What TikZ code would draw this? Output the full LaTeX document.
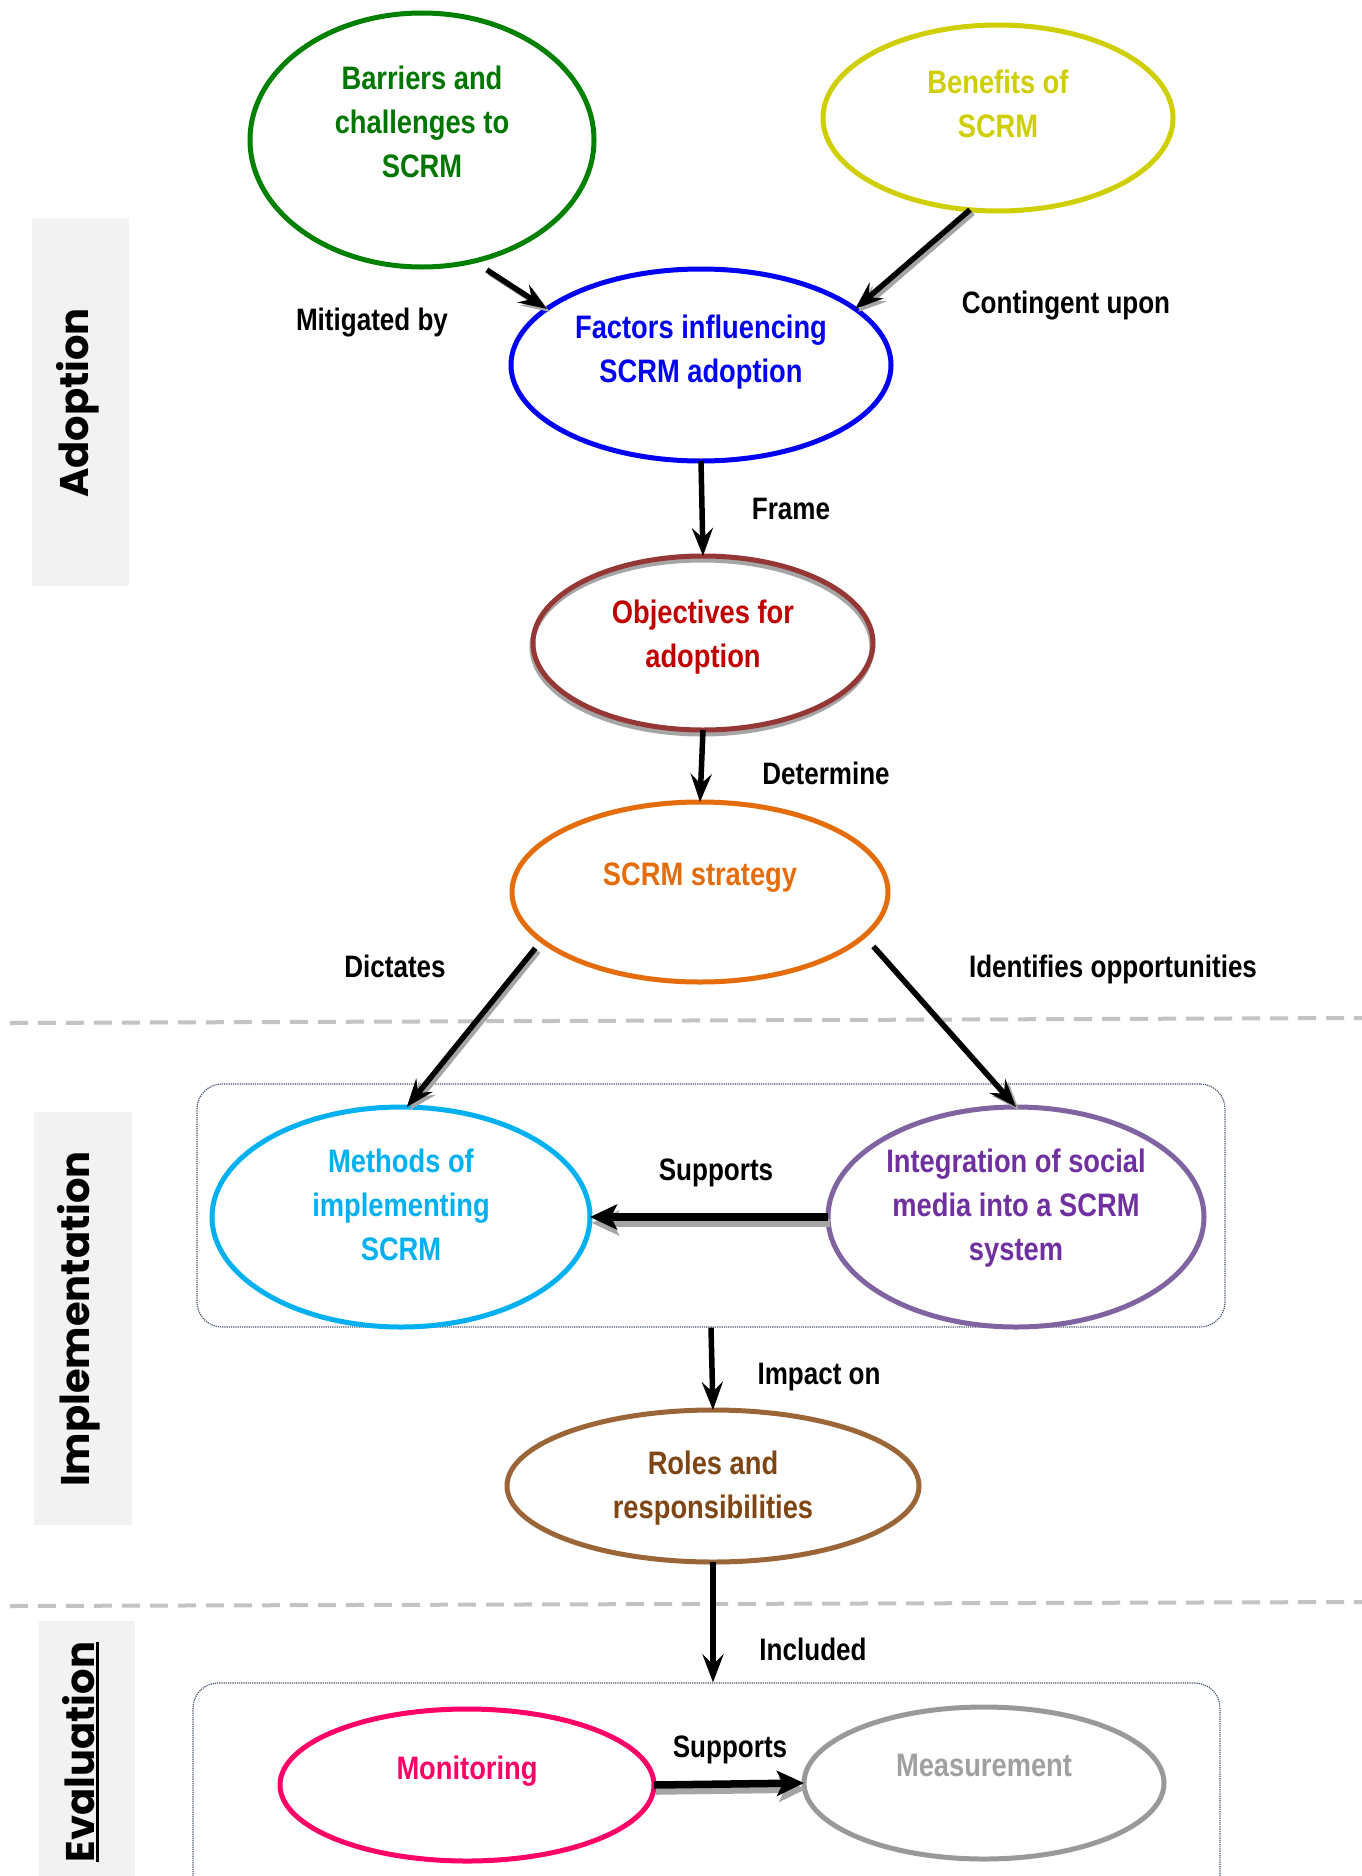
\documentclass[tikz,border=0pt]{standalone}
\usepackage{fontspec}
\setmainfont{Liberation Sans}[FakeStretch=0.84]
\newfontfamily\sidefamily{Poppins}
\usetikzlibrary{shapes.geometric,arrows.meta}
\definecolor{cgreen}{RGB}{0,128,0}
\definecolor{cgreenT}{RGB}{0,118,0}
\definecolor{cyel}{RGB}{206,206,0}
\definecolor{cblue}{RGB}{0,0,245}
\definecolor{cobj}{RGB}{149,55,53}
\definecolor{cobjT}{RGB}{192,0,0}
\definecolor{corange}{RGB}{228,108,10}
\definecolor{ccyan}{RGB}{0,176,240}
\definecolor{cpurp}{RGB}{128,100,162}
\definecolor{cpurpT}{RGB}{112,48,160}
\definecolor{cbrown}{RGB}{155,102,55}
\definecolor{cbrownT}{RGB}{125,70,20}
\definecolor{cpink}{RGB}{255,0,102}
\definecolor{cgrayE}{RGB}{153,153,153}
\definecolor{cgrayT}{RGB}{160,160,160}
\definecolor{shadowgray}{RGB}{165,165,165}
\definecolor{sidegray}{RGB}{242,242,242}
\definecolor{sepgray}{RGB}{195,195,195}
\definecolor{grpcol}{RGB}{68,84,106}
\newcommand{\mynodefont}{\fontsize{32.5}{44}\selectfont\bfseries}
\newcommand{\mylblfont}{\fontsize{31}{40}\selectfont\bfseries}
\newcommand{\mysidefont}{\sidefamily\fontsize{40}{48}\selectfont\bfseries}
\begin{document}
\begin{tikzpicture}[x=1pt,y=-1pt,
  ell/.style={ellipse, draw=#1, line width=5pt, inner sep=0pt, outer sep=0pt},
  intxt/.style={font=\mynodefont, text=#1, align=center, inner sep=0pt},
  lbl/.style={font=\mylblfont, text=black, anchor=base, inner sep=0pt},
  side/.style={font=\mysidefont, rotate=90, anchor=base, inner sep=0pt},
  conn/.style={line width=5.5pt, -{Stealth[length=28pt,width=21pt,inset=10pt]}},
  shad/.style={draw=shadowgray, transform canvas={shift={(3,3)}}},
  thickconn/.style={line width=7.5pt, -{Stealth[length=27pt,width=25pt,inset=6pt]}},
  thickshad/.style={draw=shadowgray, transform canvas={shift={(2,6)}}},
  grp/.style={draw=grpcol, densely dotted, line width=1.2pt, rounded corners=25pt, inner sep=0pt},
  sepline/.style={draw=sepgray, line width=4pt, dash pattern=on 18pt off 10pt},
]
\useasboundingbox[fill=white] (0,0) rectangle (1362,1876);

% side labels
\fill[sidegray] (32,218) rectangle (129,586);
\node[side] (tad) at (88,403) {Adoption};
\fill[sidegray] (34,1112) rectangle (132,1525);
\node[side] (timp) at (89,1319) {Implementation};
\fill[sidegray] (39,1621) rectangle (135,1900);
\node[side] (tev) at (94,1752) {Evaluation};
\draw[line width=2.5pt] ([xshift=3pt]tev.south west) -- ([xshift=3pt]tev.south east);

% separators
\draw[sepline] (10,1023) -- (1362,1018);
\draw[sepline] (10,1606) -- (1362,1602);

% group boxes
\node[grp, minimum width=1028pt, minimum height=243pt] (impbox) at (711,1205.5) {};
\node[grp, minimum width=1027pt, minimum height=240pt] (evbox) at (706.5,1803) {};

% ellipses
\node[ell=cgreen, minimum width=344pt, minimum height=254pt,
  label={[intxt=cgreenT, yshift=17.7pt]center:Barriers and\\challenges to\\SCRM}] (bar) at (422,140) {};
\node[ell=cyel, minimum width=350pt, minimum height=186pt,
  label={[intxt=cyel, yshift=14.2pt]center:Benefits of\\SCRM}] (ben) at (998,118) {};
\node[ell=cblue, minimum width=380pt, minimum height=192pt,
  label={[intxt=cblue, yshift=13pt]center:Factors influencing\\SCRM adoption}] (fac) at (701,365) {};
\node[ell=shadowgray, minimum width=340pt, minimum height=174pt] (objshadow) at (702,647) {};
\node[ell=cobj, minimum width=340pt, minimum height=174pt,
  label={[intxt=cobjT, yshift=6.3pt]center:Objectives for\\adoption}] (obj) at (703,643) {};
\node[ell=corange, minimum width=376pt, minimum height=180pt,
  label={[intxt=corange, yshift=14.3pt]center:SCRM strategy}] (str) at (700,892) {};
\node[ell=ccyan, minimum width=378pt, minimum height=220pt,
  label={[intxt=ccyan, yshift=12.2pt]center:Methods of\\implementing\\SCRM}] (met) at (401,1217) {};
\node[ell=cpurp, minimum width=376pt, minimum height=220pt,
  label={[intxt=cpurpT, yshift=9pt]center:Integration of social\\media into a SCRM\\system}] (int) at (1016,1217) {};
\node[ell=cbrown, minimum width=412pt, minimum height=152pt,
  label={[intxt=cbrownT, yshift=-2pt]center:Roles and\\responsibilities}] (rol) at (713,1486) {};
\node[ell=cpink, minimum width=374pt, minimum height=152pt,
  label={[intxt=cpink, yshift=14.3pt]center:Monitoring}] (mon) at (467,1785) {};
\node[ell=cgrayE, minimum width=360pt, minimum height=152pt,
  label={[intxt=cgrayT, yshift=18pt]center:Measurement}] (mea) at (984,1783) {};

% connector labels
\node[lbl] (lmit) at (372,330) {Mitigated by};
\node[lbl] (lcon) at (1066,313) {Contingent upon};
\node[lbl] (lfra) at (791,519) {Frame};
\node[lbl] (ldet) at (826,784) {Determine};
\node[lbl] (ldic) at (395,977) {Dictates};
\node[lbl] (lide) at (1113,977) {Identifies opportunities};
\node[lbl] (lsupa) at (716,1180) {Supports};
\node[lbl] (limp) at (819,1384) {Impact on};
\node[lbl] (linc) at (813,1660) {Included};
\node[lbl] (lsupb) at (730,1757) {Supports};

% connectors
\draw[conn, shad, shorten <=16pt] (bar.-67.5) -- (fac.160);
\draw[conn, shorten <=16pt] (bar.-67.5) -- (fac.160);
\draw[conn, shad] (ben.-107) -- (fac.20);
\draw[conn] (ben.-107) -- (fac.20);
\draw[conn] (fac.south) -- (obj.north);
\draw[conn] (obj.south) -- (str.north);
\draw[conn, shad, shorten <=10pt] (str.-163) -- (met.87);
\draw[conn, shorten <=10pt] (str.-163) -- (met.87);
\draw[conn, shad, shorten <=14pt] (str.-15.7) -- (int.north);
\draw[conn, shorten <=14pt] (str.-15.7) -- (int.north);
\draw[thickconn, thickshad] (int.west) -- (met.east);
\draw[thickconn] (int.west) -- (met.east);
\draw[conn] (impbox.south) -- (rol.north);
\draw[conn] (rol.south) -- (rol.south |- evbox.north);
\draw[thickconn, thickshad] (mon.east) -- (mea.west);
\draw[thickconn] (mon.east) -- (mea.west);
\end{tikzpicture}
\end{document}
